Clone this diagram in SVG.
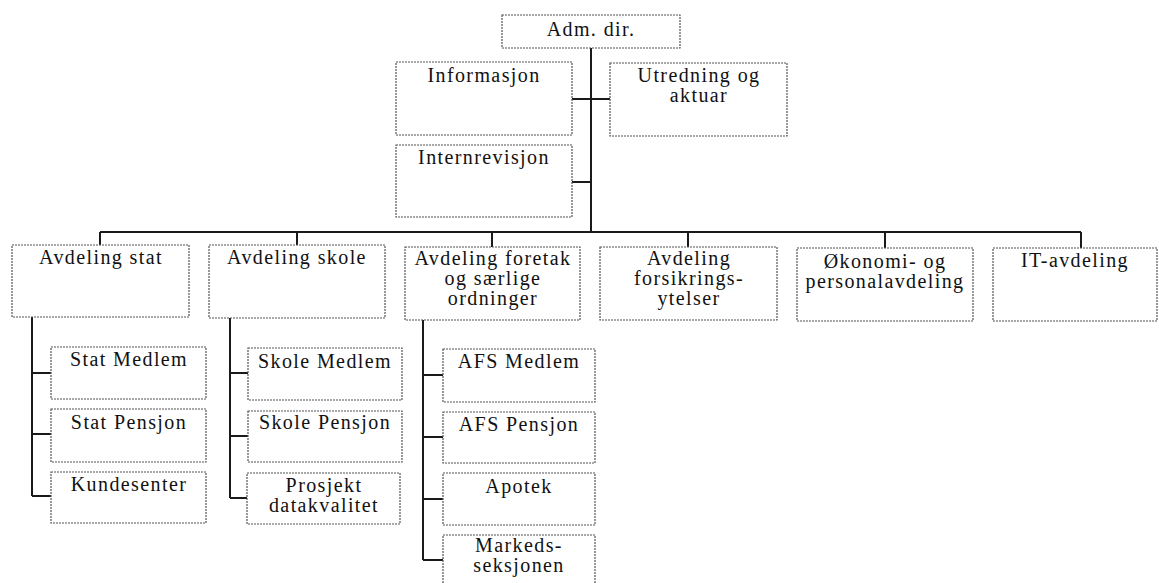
<svg xmlns="http://www.w3.org/2000/svg" width="1159" height="583" viewBox="0 0 1159 583">
<style>
.box{fill:#fff;stroke:#555;stroke-width:1.2;stroke-dasharray:2 1}
.t{font-family:'Liberation Serif','DejaVu Serif','Times New Roman',serif;font-size:20px;letter-spacing:1.4px;fill:#111;text-anchor:middle}
.c{fill:none;stroke:#1a1a1a;stroke-width:2}
</style>
<rect width="1159" height="583" fill="#fff"/>
<g id="connectors" class="c">
<path d="M591 48V232M572 99H610M572 182H591"/>
<path d="M100 232H1081M100 232V245M297 232V245M492 232V247M688 232V247M885 232V248M1081 232V248"/>
<path d="M32 317V496M32 373H51M32 434H51M32 496H51"/>
<path d="M230 318V498M230 373H248M230 436H248M230 498H248"/>
<path d="M423 320V560M423 375H443M423 437H443M423 499H443M423 560H443"/>
</g>
<g id="adm"><rect class="box" x="502" y="15" width="178" height="33"/><text class="t" x="591" y="36">Adm. dir.</text></g>
<g id="informasjon"><rect class="box" x="396" y="62" width="176" height="73"/><text class="t" x="484" y="82">Informasjon</text></g>
<g id="utredning"><rect class="box" x="610" y="63" width="177" height="73"/><text class="t" x="699" y="82">Utredning og</text><text class="t" x="699" y="102">aktuar</text></g>
<g id="internrevisjon"><rect class="box" x="396" y="145" width="176" height="72"/><text class="t" x="484" y="164">Internrevisjon</text></g>
<g id="avd-stat"><rect class="box" x="12" y="245" width="177" height="72"/><text class="t" x="101" y="264">Avdeling stat</text></g>
<g id="avd-skole"><rect class="box" x="209" y="245" width="176" height="73"/><text class="t" x="297" y="264">Avdeling skole</text></g>
<g id="avd-foretak"><rect class="box" x="405" y="247" width="175" height="73"/><text class="t" x="493" y="265">Avdeling foretak</text><text class="t" x="493" y="285">og særlige</text><text class="t" x="493" y="305">ordninger</text></g>
<g id="avd-forsikring"><rect class="box" x="600" y="247" width="177" height="73"/><text class="t" x="689" y="265">Avdeling</text><text class="t" x="689" y="285">forsikrings-</text><text class="t" x="689" y="305">ytelser</text></g>
<g id="okonomi"><rect class="box" x="797" y="248" width="176" height="73"/><text class="t" x="885" y="268">Økonomi- og</text><text class="t" x="885" y="288">personalavdeling</text></g>
<g id="it"><rect class="box" x="993" y="248" width="164" height="73"/><text class="t" x="1075" y="267">IT-avdeling</text></g>
<g id="stat-medlem"><rect class="box" x="51" y="347" width="155" height="52"/><text class="t" x="129" y="366">Stat Medlem</text></g>
<g id="stat-pensjon"><rect class="box" x="51" y="409" width="155" height="53"/><text class="t" x="129" y="429">Stat Pensjon</text></g>
<g id="kundesenter"><rect class="box" x="51" y="472" width="155" height="51"/><text class="t" x="129" y="491">Kundesenter</text></g>
<g id="skole-medlem"><rect class="box" x="248" y="348" width="154" height="52"/><text class="t" x="325" y="368">Skole Medlem</text></g>
<g id="skole-pensjon"><rect class="box" x="248" y="411" width="154" height="51"/><text class="t" x="325" y="429">Skole Pensjon</text></g>
<g id="prosjekt"><rect class="box" x="247" y="473" width="153" height="51"/><text class="t" x="324" y="492">Prosjekt</text><text class="t" x="324" y="512">datakvalitet</text></g>
<g id="afs-medlem"><rect class="box" x="443" y="349" width="152" height="53"/><text class="t" x="519" y="368">AFS Medlem</text></g>
<g id="afs-pensjon"><rect class="box" x="443" y="412" width="152" height="51"/><text class="t" x="519" y="431">AFS Pensjon</text></g>
<g id="apotek"><rect class="box" x="443" y="473" width="152" height="52"/><text class="t" x="519" y="493">Apotek</text></g>
<g id="markeds"><rect class="box" x="443" y="535" width="152" height="52"/><text class="t" x="519" y="552">Markeds-</text><text class="t" x="519" y="572">seksjonen</text></g>
</svg>
